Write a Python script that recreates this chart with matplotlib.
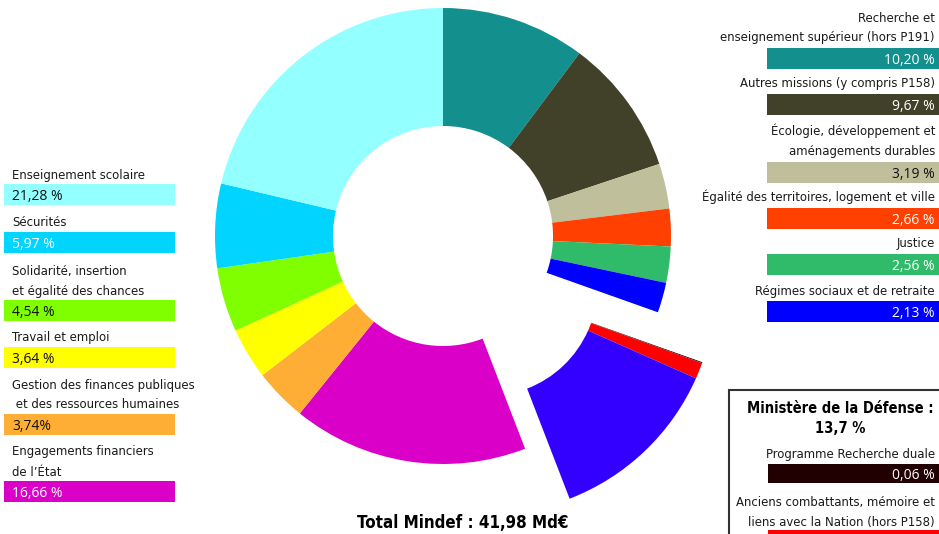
import matplotlib.pyplot as plt
from matplotlib import font_manager
from matplotlib.patches import Rectangle

# condensed sans: DejaVu Sans Condensed if present, else Roboto
fm = font_manager.fontManager
if any(f.name == 'DejaVu Sans' and f.stretch == 'condensed' for f in fm.ttflist):
    plt.rcParams['font.family'] = ['DejaVu Sans']
    plt.rcParams['font.stretch'] = 'condensed'
else:
    plt.rcParams['font.family'] = ['Roboto', 'DejaVu Sans']
lab_fs = 9.4

# pie order: clockwise from 12 o'clock
missions = [
    'Recherche et\nenseignement supérieur (hors P191)',
    'Autres missions (y compris P158)',
    'Écologie, développement et\naménagements durables',
    'Égalité des territoires, logement et ville',
    'Justice',
    'Régimes sociaux et de retraite',
    'Programme Recherche duale',
    'Anciens combattants, mémoire et\nliens avec la Nation (hors P158)',
    'Défense',
    'Engagements financiers\nde l\u2019État',
    'Gestion des finances publiques\n et des ressources humaines',
    'Travail et emploi',
    'Solidarité, insertion\net égalité des chances',
    'Sécurités',
    'Enseignement scolaire',
]
shares = [10.20, 9.67, 3.19, 2.66, 2.56, 2.13, 0.06, 1.15, 12.49,
          16.66, 3.74, 3.64, 4.54, 5.97, 21.28]
pct_labels = ['10,20 %', '9,67 %', '3,19 %', '2,66 %', '2,56 %', '2,13 %',
              '0,06 %', '', '', '16,66 %', '3,74%', '3,64 %', '4,54 %',
              '5,97 %', '21,28 %']
colors = ['#13908e', '#414129', '#bfbf9b', '#ff4000', '#2fbb6a', '#0000ff',
          '#000000', '#ff0000', '#3300ff', '#da00c8', '#ffae35', '#ffff00',
          '#80ff00', '#00d4ff', '#93ffff']
box_colors = list(colors)
box_colors[6] = '#200000'
dark_text = {'#bfbf9b', '#ffae35', '#ffff00', '#80ff00', '#93ffff'}

defense = [6, 7, 8]
left_items = [14, 13, 12, 11, 10, 9]
right_items = [0, 1, 2, 3, 4, 5]
left_tops = [184, 232, 300, 347, 414, 481]
right_tops = [48, 94, 162, 208, 254, 301]

H = 534
fig = plt.figure(figsize=(9.39, 5.34), dpi=100)
ax = fig.add_axes([0, 0, 1, 1])

cx, cy, r = 443, H - 236, 228
wedges, _ = ax.pie(shares, colors=colors, startangle=90, counterclock=False,
                   radius=r, center=(cx, cy),
                   wedgeprops=dict(width=118, linewidth=0))
for i in defense:
    wedges[i].set_center((cx + 44.5, cy - 50))

ax.set_xlim(0, 939)
ax.set_ylim(0, H)
ax.set_aspect('equal')
ax.axis('off')

val_kw = dict(fontsize=10, family=['Open Sans', 'DejaVu Sans'], stretch='normal')


def legend_box(i, top, x0, x1, side):
    c = box_colors[i]
    ax.add_patch(Rectangle((x0, H - top - 20.5), x1 - x0, 20.5, color=c, lw=0))
    lines = missions[i].split('\n')
    for j, line in enumerate(reversed(lines)):
        y = H - top + (5.5 if side == 'left' else 6.5) + j * 20
        if side == 'left':
            ax.text(12, y, line, fontsize=lab_fs, color='#1a1a1a', va='baseline')
        else:
            ax.text(935, y, line, fontsize=lab_fs, color='#1a1a1a',
                    va='baseline', ha='right')
    tc = '#111111' if c in dark_text else 'white'
    yv = H - top - 16
    if side == 'left':
        ax.text(12, yv, pct_labels[i], color=tc, va='baseline', **val_kw)
    else:
        ax.text(935, yv, pct_labels[i], color=tc, va='baseline', ha='right',
                **val_kw)


for i, t in zip(left_items, left_tops):
    legend_box(i, t, 4, 175, 'left')
for i, t in zip(right_items, right_tops):
    legend_box(i, t, 767, 939, 'right')

# Ministère de la Défense frame
ax.add_patch(Rectangle((729, -10), 230, H - 390 + 10, fill=False,
                       edgecolor='#333333', lw=1.5))
ax.text(840, H - 413, 'Ministère de la Défense :', fontsize=10.5,
        fontweight='bold', ha='center', va='baseline')
ax.text(840, H - 433, '13,7 %', fontsize=10.5, fontweight='bold',
        ha='center', va='baseline')
ax.text(935, H - 458, missions[6], fontsize=lab_fs, color='#1a1a1a',
        ha='right', va='baseline')
ax.add_patch(Rectangle((768, H - 483), 171, 19, color=box_colors[6], lw=0))
ax.text(935, H - 479, pct_labels[6], color='white', ha='right',
        va='baseline', **val_kw)
l1, l2 = missions[7].split('\n')
ax.text(935, H - 506, l1, fontsize=lab_fs, color='#1a1a1a', ha='right',
        va='baseline')
ax.text(935, H - 526, l2, fontsize=lab_fs, color='#1a1a1a', ha='right',
        va='baseline')
ax.add_patch(Rectangle((768, 0), 171, 4, color=colors[7], lw=0))

ax.text(463, 6, 'Total Mindef : 41,98 Md€', fontsize=12.2, fontweight='bold',
        ha='center', va='baseline')

fig.savefig('out.png', dpi=100)
